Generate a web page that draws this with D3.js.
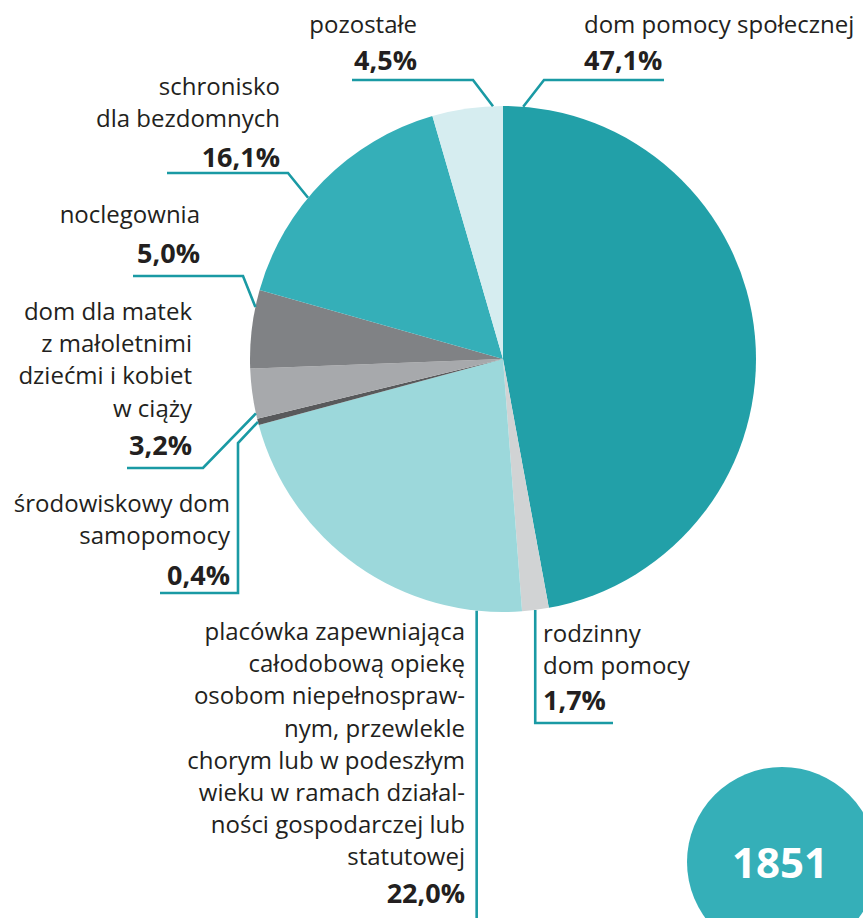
<!DOCTYPE html>
<html lang="pl">
<head>
<meta charset="UTF-8">
<title>Struktura placówek</title>
<script src="https://d3js.org/d3.v7.min.js"></script>
<style>
  html, body { margin: 0; padding: 0; background: #fff; }
  svg { display: block; font-family: "Open Sans", "Noto Sans", sans-serif; }
</style>
</head>
<body>
<div id="chart"></div>
<script>
// data, clockwise from 12 o'clock
var categories = ['dom pomocy społecznej', 'rodzinny dom pomocy', 'placówka całodobowa',
  'środowiskowy dom samopomocy', 'dom dla matek', 'noclegownia', 'schronisko', 'pozostałe'];
var shares = [47.1, 1.7, 22.0, 0.4, 3.2, 5.0, 16.1, 4.5];
var shareLabels = ['47,1%', '1,7%', '22,0%', '0,4%', '3,2%', '5,0%', '16,1%', '4,5%'];
var labelLines = [
  ['dom pomocy społecznej'],
  ['rodzinny', 'dom pomocy'],
  ['placówka zapewniająca', 'całodobową opiekę', 'osobom niepełnospraw-', 'nym, przewlekle',
   'chorym lub w podeszłym', 'wieku w ramach działal-', 'ności gospodarczej lub', 'statutowej'],
  ['środowiskowy dom', 'samopomocy'],
  ['dom dla matek', 'z małoletnimi', 'dziećmi i kobiet', 'w ciąży'],
  ['noclegownia'],
  ['schronisko', 'dla bezdomnych'],
  ['pozostałe']
];
var total = '1851';

var colors = ['#22a0a8', '#d1d3d4', '#9cd8db', '#58595b', '#a7a9ac', '#808285', '#35afb8', '#d6edf0'];

// label placement: where the leader leaves the slice (fraction of slice), its path, text anchor
var layout = [
  { at: 0.027, path: [[544, 80], [664, 80]], x: 584, y: 33, anchor: 'start', pctY: 70 },
  { at: 0.51, path: [[null, 723], [613, 723]], x: 543, y: 642, anchor: 'start', pctY: 710 },
  { at: 0.13, path: [[null, 920]], x: 465, y: 640, anchor: 'end', pctY: 903 },
  { at: 0.5, path: [[238, 443], [238, 593], [160, 593]], x: 230, y: 512, anchor: 'end', pctY: 585 },
  { at: 0.11, path: [[203, 468], [127, 468]], x: 192, y: 320, anchor: 'end', pctY: 455 },
  { at: 0.78, path: [[243, 276], [133, 276]], x: 200, y: 223, anchor: 'end', pctY: 263 },
  { at: 0.41, path: [[288, 173], [167, 173]], x: 280, y: 95, anchor: 'end', pctY: 167 },
  { at: 0.86, path: [[473, 80], [352, 80]], x: 417, y: 33, anchor: 'end', pctY: 70 }
];

var width = 863, height = 918;
var cx = 503, cy = 359, radius = 253;
var lineGap = 32.2;

var svg = d3.select('#chart').append('svg')
  .attr('width', width)
  .attr('height', height);

var pie = d3.pie().sort(null).value(function(d) { return d; });
var arcs = pie(shares);
var arc = d3.arc().innerRadius(0).outerRadius(radius);

var g = svg.append('g').attr('transform', 'translate(' + cx + ',' + cy + ')');

g.selectAll('path')
  .data(arcs)
  .enter().append('path')
  .attr('d', arc)
  .attr('fill', function(d, i) { return colors[i]; });

// leader lines
var line = d3.line();
arcs.forEach(function(a, i) {
  var L = layout[i];
  var ang = a.startAngle + (a.endAngle - a.startAngle) * L.at;
  var pts = [[cx + radius * Math.sin(ang), cy - radius * Math.cos(ang)]];
  L.path.forEach(function(p) {
    var prev = pts[pts.length - 1];
    pts.push([p[0] === null ? prev[0] : p[0], p[1]]);
  });
  svg.append('path')
    .attr('d', line(pts))
    .attr('fill', 'none')
    .attr('stroke', '#1a9aa4')
    .attr('stroke-width', 2.6)
    .attr('stroke-linejoin', 'miter');
});

// labels
labelLines.forEach(function(lines, i) {
  var L = layout[i];
  var t = svg.append('g');
  lines.forEach(function(s, k) {
    t.append('text')
      .attr('x', L.x)
      .attr('y', L.y + k * lineGap)
      .attr('text-anchor', L.anchor)
      .attr('font-size', 24)
      .attr('fill', '#231f20')
      .text(s);
  });
  t.append('text')
    .attr('x', L.x)
    .attr('y', L.pctY)
    .attr('text-anchor', L.anchor)
    .attr('font-size', 27)
    .attr('font-weight', 700)
    .attr('fill', '#231f20')
    .text(shareLabels[i]);
});

// total badge
svg.append('circle')
  .attr('cx', 782)
  .attr('cy', 862)
  .attr('r', 95)
  .attr('fill', '#35afb8');
svg.append('text')
  .attr('x', 780)
  .attr('y', 878)
  .attr('text-anchor', 'middle')
  .attr('font-size', 42)
  .attr('font-weight', 700)
  .attr('fill', '#fff')
  .text(total);
</script>
</body>
</html>
